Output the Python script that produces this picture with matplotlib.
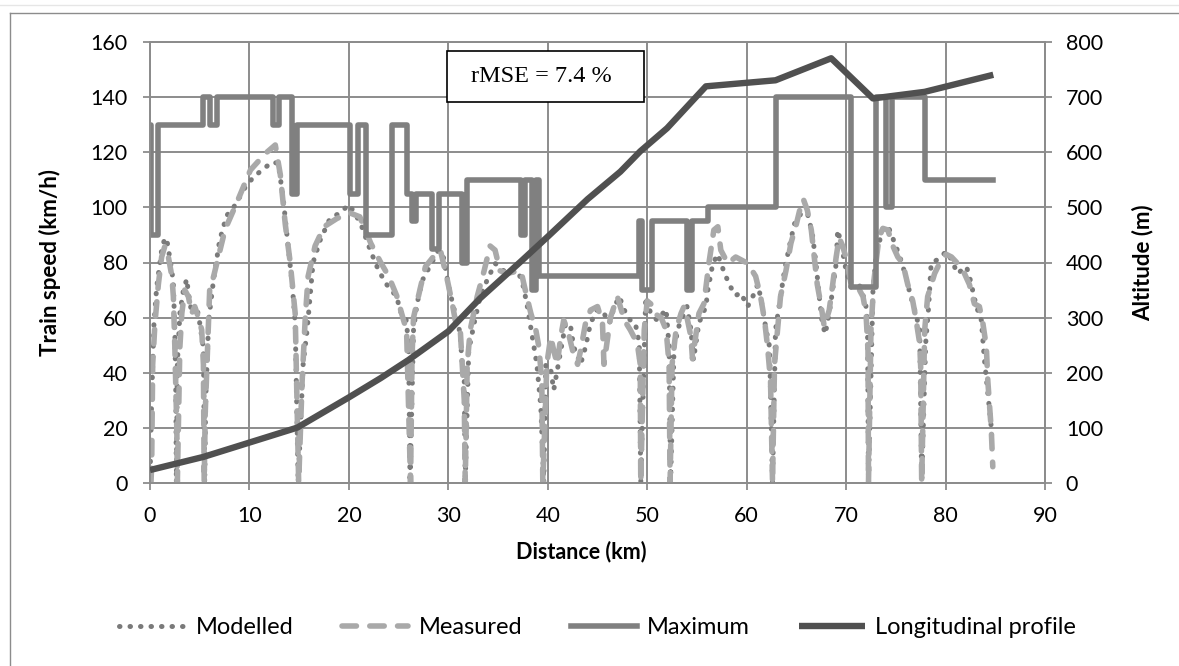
import matplotlib
matplotlib.use("Agg")
import matplotlib.pyplot as plt
from matplotlib.lines import Line2D
from matplotlib.patches import Rectangle

# Modelled train speed (km/h) along the line (km)
modelled_km = [0.0, 0.07, 0.17, 0.4, 0.67, 1.17, 1.5, 1.75, 2.2, 2.35, 2.5, 2.6, 2.65,
               2.75, 3.0, 3.36, 3.7, 3.86, 4.2, 4.7, 5.0, 5.37, 5.5,
               5.6, 5.9, 6.4, 7.0, 7.7, 8.4, 8.9, 9.6, 10.4, 11.4, 12.3, 12.9, 13.4, 13.8, 14.3, 14.6, 14.9,
               15.4, 15.8, 16.4, 17.1, 18.1, 19.1, 20.0, 20.6, 21.3, 22.2, 23.0, 23.8, 24.8, 25.2, 25.7, 26.0, 26.15,
               26.5, 26.85, 27.4, 27.9, 29.0, 29.5, 30.0, 30.5, 31.0, 31.2, 31.4, 31.6, 31.7,
               32.05, 32.6, 33.2, 33.9, 34.7, 35.9, 36.9, 37.4, 37.9, 38.4, 38.9, 39.3, 39.45, 39.6,
               39.8, 40.3, 40.6, 41.3, 41.8, 42.3, 42.6, 43.3, 43.8, 44.3, 45.0, 45.65, 46.2, 46.7, 47.2, 47.7,
               48.3, 48.8, 49.2, 49.35,
               49.85, 50.35, 51.0, 51.9, 52.2, 52.35,
               52.7, 53.2, 54.0, 54.4, 54.65, 55.2, 55.9, 56.1, 56.6, 57.1, 57.4, 57.9, 58.4, 58.9, 59.4, 60.1,
               60.8, 61.1, 61.4, 61.9, 62.3, 62.6,
               62.9, 63.3, 63.8, 64.3, 64.8, 65.5, 66.1, 66.6, 66.97, 67.3, 67.6, 67.9, 68.3, 68.65, 69.0, 69.15,
               69.5, 70.0, 70.5, 71.2, 71.5, 72.0, 72.15, 72.25,
               72.7, 73.0, 73.7, 74.35, 75.0, 75.5, 76.0, 76.5, 77.0, 77.4, 77.6,
               78.0, 78.3, 78.55, 79.4, 80.05, 80.6, 81.2, 82.1, 82.4, 83.1, 83.6, 83.9, 84.25, 84.6, 84.66]
modelled_kmh = [0, 13, 31, 58, 71, 84.5, 89, 87, 77, 72, 55, 31, 0,
                43, 61.5, 70, 74, 69, 61.5, 64, 58, 49, 0,
                30, 59, 74, 88, 97, 100, 103, 107.5, 111, 114, 116.5, 116, 103, 89, 72, 58, 0,
                43, 55.5, 80, 88, 96, 98, 101, 98, 93, 84, 77, 72, 67.6, 62, 61, 50.6, 0,
                55.5, 65, 73.6, 77, 84.5, 82, 72, 64, 58, 53, 43, 37, 0,
                48, 58, 67.6, 73.6, 79.7, 76, 77, 73.6, 65, 54, 43, 27.6, 14, 0,
                43, 41, 33.7, 48, 58, 56.7, 49.4, 43, 49.4, 58, 63, 61.5, 58, 64, 67.6, 62.7,
                59, 58, 50.6, 0,
                67.6, 61.5, 59, 63, 49.4, 0,
                49.4, 57, 64, 55.5, 44.6, 58, 64, 70, 79.7, 83, 79.7, 75, 71, 68, 69, 64,
                69, 72, 67.6, 56.7, 49.4, 0,
                55.5, 65, 77, 86, 94, 98, 98, 90.6, 79.7, 67.6, 58, 54, 61.5, 70, 79.7, 91.8,
                87, 77, 71, 72, 71, 64, 58, 0,
                70, 82, 93, 92, 86, 81, 75, 67.6, 61.5, 55.5, 0,
                50.6, 64, 79.7, 81.5, 84, 81, 76, 78.5, 75, 64, 59, 45, 32.5, 20, 14]

# Measured train speed (km/h)
measured_km = [0.1, 0.17, 0.27, 0.5, 0.84, 1.17, 1.5, 1.85, 2.2, 2.35, 2.5, 2.7, 2.75,
               2.85, 3.0, 3.2, 3.5, 3.86, 4.2, 4.5, 4.87, 5.2, 5.37, 5.45,
               5.55, 6.0, 6.4, 7.55, 8.7, 10.1, 11.6, 12.6, 13.1, 13.6, 14.1, 14.6, 14.95,
               15.3, 15.6, 15.9, 16.6, 17.5, 18.8, 20.1, 21.1, 22.2, 23.2, 24.0, 24.8, 25.5, 25.8, 26.2,
               26.35, 26.5, 27.2, 27.7, 28.7, 29.2, 29.9, 30.4, 30.7, 31.2, 31.6, 31.7,
               31.9, 32.2, 32.9, 33.6, 34.2, 34.7, 35.2, 35.9, 36.6, 37.3, 37.8, 38.3, 38.8, 39.1, 39.4, 39.5,
               39.8, 39.9, 40.3, 40.6, 40.95, 41.3, 41.6, 42.0, 42.5, 43.0, 43.3, 43.8, 44.3, 45.0, 45.5, 45.65,
               46.3, 47.0, 47.7, 48.3, 49.0, 49.3, 49.35,
               49.7, 50.0, 50.35, 50.7, 51.4, 51.9, 52.2, 52.3,
               52.5, 52.9, 53.4, 53.7, 54.0, 54.4, 54.55, 55.2, 55.7, 56.2, 56.7, 57.1, 57.4, 58.1, 58.9, 60.1,
               60.9, 61.4, 61.8, 62.1, 62.4, 62.6,
               62.8, 63.1, 63.4, 63.95, 64.45, 65.0, 65.5, 65.7, 66.1, 66.5, 66.8, 67.1, 67.5, 67.8, 68.3, 68.65,
               69.0, 69.3, 69.65, 70.15, 70.5, 71.2, 71.7, 72.0, 72.2, 72.25,
               72.5, 72.8, 73.3, 73.7, 74.2, 74.7, 75.2, 75.7, 76.2, 76.7, 77.0, 77.4, 77.5, 77.6,
               77.9, 78.2, 78.9, 79.4, 80.05, 80.6, 81.2, 81.9, 82.4, 82.9, 83.4, 83.75, 84.1, 84.25, 84.6, 84.75]
measured_kmh = [0, 7, 43, 58, 72, 82, 86, 82, 75, 67.6, 49, 19, 0,
                19, 49, 61.5, 70, 67.6, 61.5, 64, 60, 55.5, 43, 0,
                25, 70, 75, 92, 101.5, 113.6, 119.6, 122.7, 112, 94, 80, 61.5, 0,
                37, 59, 75, 86, 93, 96, 98, 96.6, 87, 80, 75, 68, 59, 55.5, 0,
                46, 60, 71, 78.5, 83, 84.5, 73.6, 65, 59, 55.5, 30, 0,
                43, 55.5, 67.6, 77, 86, 84.5, 77, 76, 76.6, 77, 69, 61.5, 55.5, 49.4, 37, 0,
                31, 43, 53, 48, 43, 53, 59, 55.5, 48, 43, 48, 58, 62.7, 64, 58, 43,
                60, 67.6, 59, 55.5, 50.6, 43, 0,
                55.5, 66, 65, 61.5, 60, 55.5, 43, 0,
                43, 55.5, 61.5, 64, 60, 53, 45, 61.5, 65, 79.7, 91.8, 93, 84.5, 79.7, 82, 79.7,
                75, 67.6, 59, 49.4, 37, 0,
                43, 55.5, 67.6, 77, 87, 94, 101.5, 103, 99, 91.8, 82, 72, 64, 56.7, 62.7, 72,
                82, 89, 86, 79.7, 72, 71, 67.6, 61.5, 48, 0,
                55.5, 73.6, 89, 92.4, 91.8, 86, 82, 79.7, 72, 66, 60, 50.6, 42, 0,
                55.5, 67.6, 76, 79.7, 83, 82, 79.7, 76, 72, 65, 64, 58, 49.4, 37, 19, 5.8]

# Line speed limit (km/h), value holds from each break point on
max_km = [0, 0.15, 0.85, 5.37, 6.05, 6.7, 12.4, 13.0, 14.3, 14.8, 20.1, 20.9, 21.7, 24.3,
          25.85, 26.3, 26.7, 28.4, 29.1, 31.4, 31.9, 37.3, 37.7, 38.4, 38.8, 39.1,
          49.2, 49.45, 50.5, 54.0, 54.5, 56.1, 62.9, 70.5, 73.0, 74.0, 74.6, 77.9, 84.8]
max_kmh = [130, 90, 130, 140, 130, 140, 130, 140, 105, 130, 105, 130, 90, 130,
           105, 95, 105, 85, 105, 80, 110, 90, 110, 70, 110, 75,
           95, 70, 95, 70, 95, 100, 140, 71, 140, 100, 140, 110, 110]

# Longitudinal profile (m)
profile_km = [0, 5.4, 14.8, 20.0, 23.2, 26.0, 30.0, 33.2, 37.3, 40.0, 44.0, 47.3, 49.3,
              52.0, 55.9, 62.9, 68.5, 72.7, 77.9, 84.8]
profile_alt = [23, 47, 100, 155, 190, 223, 275, 335, 402, 447, 515, 565, 602,
               644, 720, 731, 771, 698, 710, 741]

x_ticks = list(range(0, 91, 10))
speed_ticks = list(range(0, 161, 20))
alt_ticks = list(range(0, 801, 100))
rmse_label = "rMSE = 7.4 %"

GRID = "#8c8c8c"
W, H = 1179, 666

plt.rcParams.update({
    "font.family": ["Lato", "DejaVu Sans"],
    "font.size": 15.5,
    "axes.linewidth": 1.3,
})

fig = plt.figure(figsize=(W / 100, H / 100), dpi=100)
ax = fig.add_axes([150 / W, 1 - 482.7 / H, 895 / W, 440.4 / H])
ax2 = ax.twinx()

ax.plot(modelled_km, modelled_kmh, color="#7a7a7a", lw=3.6, ls=(0, (0.1, 2.0)),
        dash_capstyle="round", label="Modelled", zorder=3)
ax.plot(measured_km, measured_kmh, color="#a9a9a9", lw=4, ls=(0, (2.6, 2.4)),
        dash_capstyle="round", label="Measured", zorder=4)
ax.plot(max_km, max_kmh, color="#808080", lw=4, drawstyle="steps-post",
        label="Maximum", zorder=5)
ax2.plot(profile_km, profile_alt, color="#505050", lw=4.6, solid_capstyle="butt",
         label="Longitudinal profile", zorder=6)

ax.set_xlim(0, 90)
ax.set_ylim(0, 160)
ax2.set_ylim(0, 800)
ax.set_xticks(x_ticks)
ax.set_yticks(speed_ticks)
ax2.set_yticks(alt_ticks)

ax.set_axisbelow(True)
ax.grid(True, color=GRID, lw=1.4)
for a in (ax, ax2):
    for s in a.spines.values():
        s.set_color(GRID)
ax.tick_params(axis="y", direction="out", length=5, width=1.3, color=GRID, pad=11)
ax.tick_params(axis="x", direction="out", length=5, width=1.3, color=GRID, pad=12)
ax2.tick_params(axis="y", direction="out", length=5, width=1.3, color=GRID, pad=10)

ax.set_xlabel("Distance (km)", fontweight="bold", fontsize=15.5)
ax.xaxis.set_label_coords((581 - 150) / 895, -(541 - 482.7) / 440.4)
ax.set_ylabel("Train speed (km/h)", fontweight="bold", fontsize=16)
ax.yaxis.set_label_coords((61 - 150) / 895, 0.5)
ax2.set_ylabel("Altitude (m)", fontweight="bold", fontsize=16, rotation=90)
ax2.yaxis.set_label_coords((1132 - 150) / 895, 0.5)

# rMSE box
ax2.add_patch(Rectangle((0.3315, 0.8651), 0.2208, 0.1158, transform=ax.transAxes,
                        facecolor="white", edgecolor="black", lw=1.2, zorder=10))
ax2.text(0.4374, 0.923, rmse_label, transform=ax.transAxes, ha="center", va="center",
         family="Liberation Serif", fontsize=17.5, zorder=11)

h1, l1 = ax.get_legend_handles_labels()
h2, l2 = ax2.get_legend_handles_labels()
ax.legend(h1 + h2, l1 + l2, loc="center", bbox_to_anchor=(0.5, -(628 - 482.7) / 440.4),
          ncol=4, frameon=False, handlelength=2.8, handletextpad=0.45, columnspacing=2.05,
          fontsize=17)

# chart area frame (top and left edges only are visible)
fig.add_artist(Line2D([10 / W, 10 / W], [0, 1 - 13 / H], transform=fig.transFigure, color=GRID, lw=1))
fig.add_artist(Line2D([10 / W, 1], [1 - 13 / H, 1 - 13 / H], transform=fig.transFigure, color=GRID, lw=1))
fig.add_artist(Line2D([0, 1], [1 - 5 / H, 1 - 5 / H], transform=fig.transFigure, color="#e6e6e6", lw=1))

fig.savefig("out.png", dpi=100, facecolor="white")
plt.close(fig)
